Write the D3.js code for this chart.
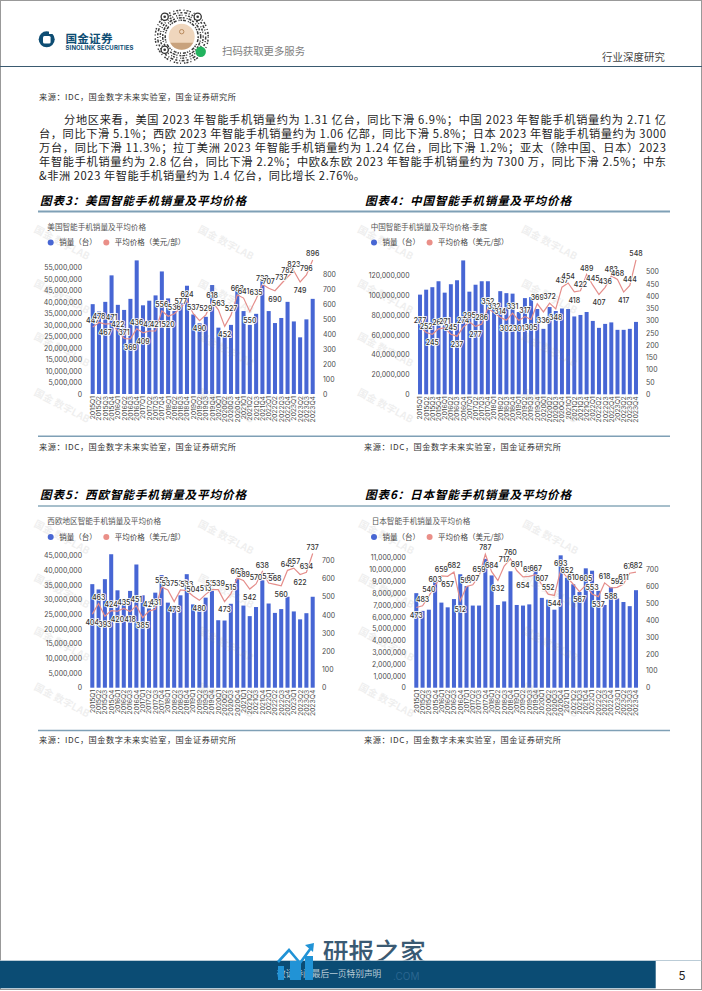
<!DOCTYPE html>
<html>
<head>
<meta charset="utf-8">
<script src="https://cdn.jsdelivr.net/npm/d3@7/dist/d3.min.js"></script>
<style>
  html, body { margin: 0; padding: 0; background: #fff; }
  svg { display: block; }
  text { font-family: "Noto Sans CJK SC", "Noto Sans", sans-serif; }
  .num { font-family: "Inter", "Noto Sans", sans-serif; }
</style>
</head>
<body>
<svg id="page" width="702" height="991"></svg>
<script>
// quarters shared by all four charts
const quarters = [
  "2015Q1","2015Q2","2015Q3","2015Q4","2016Q1","2016Q2","2016Q3","2016Q4","2017Q1",
  "2017Q2","2017Q3","2017Q4","2018Q1","2018Q2","2018Q3","2018Q4","2019Q1","2019Q2",
  "2019Q3","2019Q4","2020Q1","2020Q2","2020Q3","2020Q4","2021Q1","2021Q2","2021Q3",
  "2021Q4","2022Q1","2022Q2","2022Q3","2022Q4","2023Q1","2023Q2","2023Q3","2023Q4"
];

// sales (million units)
const usSales = [39,35.8,40,51.5,38.7,36.5,41.3,58,38.5,40.5,42.8,53.2,41.5,36,39.5,47,34.5,30.7,33.5,47.3,28.8,26,30,45,36,30,34.8,49.2,36,30.8,33,40,31.5,24.6,32.4,41.3];
const cnSales = [100.5,105.5,108,114,102.5,111,115,135,103.5,110.5,114,114,90,104,102,101.5,83,97,98,86,66,88,84,86.5,86,78.5,80,83,74,67,71,72.5,65,65,66,73];
const euSales = [35.3,33.5,37,45.5,33.2,30,33,42,31.5,27,32.4,38.4,29,28,31.5,38.7,28.4,26,30.7,33,23,22.9,28.6,37,28,24.4,27.5,36.6,28.7,25.5,26.8,31,26,23.3,25.4,31];
const jpSales = [8,6.5,6.6,9,7.2,6.8,7.5,9.6,8.6,6.95,6.95,10.9,9.5,7,7.3,9.85,7,6.95,7.05,9.9,7.6,7.45,6.6,11.2,9.3,8.75,8.1,10.1,9.9,8.2,7,8.5,7.55,7.25,6.9,8.25];

// average price (USD per unit)
const usPrice = [447,478,467,471,422,371,369,436,409,421,421,556,520,536,577,624,537,490,529,618,563,452,527,663,641,550,635,733,707,690,737,782,823,749,796,896];
const cnPrice = [277,252,245,267,271,245,237,274,295,277,286,352,332,314,302,331,301,317,305,369,336,372,348,437,454,418,422,489,445,407,436,483,468,417,444,548];
const euPrice = [404,463,393,424,420,435,418,451,385,421,431,553,537,473,537,533,504,480,513,539,539,473,515,603,589,542,570,638,575,568,560,645,657,622,634,737];
const jpPrice = [473,483,540,603,659,657,682,512,597,607,659,787,684,632,717,760,691,654,657,667,607,552,544,693,652,610,567,605,553,537,618,588,592,611,675,682];

// axis ticks
const usLeftTicks = [0,5,10,15,20,25,30,35,40,45,50,55];
const cnLeftTicks = [0,20,40,60,80,100,120];
const euLeftTicks = [0,5,10,15,20,25,30,35,40,45];
const jpLeftTicks = [0,1,2,3,4,5,6,7,8,9,10,11];
const usRightTicks = [0,100,200,300,400,500,600,700,800];
const cnRightTicks = [0,50,100,150,200,250,300,350,400,450,500];
const euRightTicks = [0,100,200,300,400,500,600,700];
const jpRightTicks = [0,100,200,300,400,500,600,700];

// text
const bodyLines = [
  "分地区来看，美国 2023 年智能手机销量约为 1.31 亿台，同比下滑 6.9%；中国 2023 年智能手机销量约为 2.71 亿",
  "台，同比下滑 5.1%；西欧 2023 年智能手机销量约为 1.06 亿部，同比下滑 5.8%；日本 2023 年智能手机销量约为 3000",
  "万台，同比下滑 11.3%；拉丁美洲 2023 年智能手机销量约为 1.24 亿台，同比下滑 1.2%；亚太（除中国、日本）2023",
  "年智能手机销量约为 2.8 亿台，同比下滑 2.2%；中欧&东欧 2023 年智能手机销量约为 7300 万，同比下滑 2.5%；中东",
  "&非洲 2023 年智能手机销量约为 1.4 亿台，同比增长 2.76%。"
];
const sourceText = "来源：IDC，国金数字未来实验室，国金证券研究所";

const barColor = "#4766d4", lineColor = "#e58e8b", legendLine = "#ea8f88";
const svg = d3.select("#page");
const fmt = d3.format(",");

function addText(x, y, str, size, color, opts) {
  opts = opts || {};
  const t = svg.append("text").attr("x", x).attr("y", y).text(str)
    .attr("font-size", size).attr("fill", color)
    .attr("font-weight", opts.weight || 400)
    .attr("text-anchor", opts.anchor || "start");
  if (opts.len) t.attr("textLength", opts.len).attr("lengthAdjust", "spacing");
  if (opts.style) t.attr("font-style", opts.style);
  return t;
}

// ---------- page furniture ----------
svg.append("rect").attr("x", 0.5).attr("y", 0.5).attr("width", 701).attr("height", 989)
  .attr("fill", "#fff").attr("stroke", "#999");

// logo
svg.append("circle").attr("cx", 46.7).attr("cy", 39.3).attr("r", 8).attr("fill", "#0e4d73");
svg.append("rect").attr("x", 43).attr("y", 36).attr("width", 7.6).attr("height", 7.5).attr("rx", 1.5).attr("fill", "#fff");
svg.append("rect").attr("x", 49).attr("y", 30).attr("width", 5).attr("height", 4).attr("fill", "#fff");
addText(65.5, 42.8, "国金证券", 11.6, "#0e4d73", {weight: 700, len: 47});
addText(65.5, 49.6, "SINOLINK SECURITIES", 6, "#0e4d73", {weight: 700, len: 68}).attr("class", "num");

// qr code, ring style
const qr = svg.append("g").attr("transform", "translate(181.7,36.7)");
[[16.5,"1.5 1 3 2 1 1"],[19,"2 2 1 1 3 1"],[21.5,"1 1.5 2 1 1 3"],[24,"3 1.5 1 2 2 2"],[26.5,"1 2 2 1 1.5 3"]].forEach(function (r) {
  qr.append("circle").attr("r", r[0]).attr("fill", "none").attr("stroke", "#3b3b3b")
    .attr("stroke-width", 1.5).attr("stroke-dasharray", r[1]);
});
qr.append("circle").attr("r", 14).attr("fill", "#fff");
qr.append("circle").attr("r", 13).attr("fill", "#efd6bd");
qr.append("path").attr("d", "M-11.5,6 A13,13 0 0 0 11.5,6 Z").attr("fill", "#c8a27d");
qr.append("circle").attr("cy", -5).attr("r", 2.2).attr("fill", "none").attr("stroke", "#b98a5e");
[[-17,-20],[16,-20],[-17,13]].forEach(function (p) {
  qr.append("circle").attr("cx", p[0]).attr("cy", p[1]).attr("r", 3.6).attr("fill", "#fff").attr("stroke", "#333").attr("stroke-width", 1.3);
  qr.append("circle").attr("cx", p[0]).attr("cy", p[1]).attr("r", 1.3).attr("fill", "#333");
});
qr.append("circle").attr("cx", 19).attr("cy", 15).attr("r", 5.2).attr("fill", "#22b35e");
addText(222, 55.3, "扫码获取更多服务", 10.4, "#808080");
addText(602, 60.6, "行业深度研究", 10.4, "#444", {len: 63});

svg.append("line").attr("x1", 0).attr("x2", 702).attr("y1", 66.5).attr("y2", 66.5).attr("stroke", "#3a5a70").attr("stroke-width", 1);

addText(39, 99.6, sourceText, 8.2, "#333", {len: 197});

// body copy
const lineY = [123.6, 138, 152, 166, 180];
bodyLines.forEach(function (s, i) {
  const x = i === 0 ? 64 : 39;
  addText(x, lineY[i], s, 11.2, "#1c1c1c", {len: i === 4 ? 326 : 666 - x});
});

// figure titles and rules
[["图表3：美国智能手机销量及平均价格", 40, 205.4], ["图表4：中国智能手机销量及平均价格", 365, 205.4],
 ["图表5：西欧智能手机销量及平均价格", 40, 499.4], ["图表6：日本智能手机销量及平均价格", 365, 499.4]].forEach(function (t) {
  addText(t[1], t[2], t[0], 11.6, "#000", {weight: 700, style: "italic", len: 206});
});
[[211.5, "#7fa0b6", 2], [436.3, "#7fa0b6", 1.6], [506, "#4f7e97", 1], [730.5, "#7fa0b6", 1.6]].forEach(function (r) {
  svg.append("line").attr("x1", 38).attr("x2", 670).attr("y1", r[0]).attr("y2", r[0]).attr("stroke", r[1]).attr("stroke-width", r[2]);
});
[[39, 449.6], [364, 449.6], [39, 742.6], [364, 742.6]].forEach(function (p) {
  addText(p[0], p[1], sourceText, 8.2, "#333", {len: 197});
});

// ---------- charts ----------
function drawChart(c) {
  const step = (c.xLast - c.xFirst) / (quarters.length - 1);
  const x = d3.scaleBand().domain(quarters)
    .range([c.xFirst - step / 2, c.xLast + step / 2])
    .paddingInner(0.36).paddingOuter(0.18);
  const yLeft = d3.scaleLinear().domain([0, d3.max(c.leftTicks)]).range([c.y0, c.yLeftTop]);
  const yRight = d3.scaleLinear().domain([0, d3.max(c.rightTicks)]).range([c.y0, c.yRightTop]);
  const g = svg.append("g");

  addText(c.titleX, c.titleY, c.title, 7.6, "#555");
  g.append("circle").attr("cx", c.dot1).attr("cy", c.titleY + 13).attr("r", 3).attr("fill", barColor);
  addText(c.dot1 + 8.5, c.titleY + 15.8, "销量（台）", 7.5, "#444");
  g.append("circle").attr("cx", c.dot1 + 55.6).attr("cy", c.titleY + 13).attr("r", 3).attr("fill", legendLine);
  addText(c.dot1 + 64, c.titleY + 15.8, "平均价格（美元/部）", 7.5, "#444");

  g.selectAll(".bar").data(c.sales).enter().append("rect")
    .attr("class", "bar")
    .attr("x", function (d, i) { return x(quarters[i]); })
    .attr("y", function (d) { return yLeft(d); })
    .attr("width", x.bandwidth())
    .attr("height", function (d) { return c.y0 - yLeft(d); })
    .attr("fill", barColor);

  const axisL = d3.axisLeft(yLeft).tickValues(c.leftTicks).tickSize(0).tickPadding(0)
    .tickFormat(function (d) { return fmt(d * 1000000); });
  const axisR = d3.axisRight(yRight).tickValues(c.rightTicks).tickSize(0).tickPadding(0);
  const axisB = d3.axisBottom(x).tickSize(0);

  const gl = g.append("g").attr("transform", "translate(" + c.leftX + ",0)").call(axisL);
  const gr = g.append("g").attr("transform", "translate(" + c.rightX + ",0)").call(axisR);
  const gb = g.append("g").attr("transform", "translate(0," + c.y0 + ")").call(axisB);
  gl.select(".domain").remove();
  gr.select(".domain").remove();
  gb.select(".domain").remove();
  [gl, gr].forEach(function (a) {
    a.selectAll("text").attr("class", "num").attr("font-size", 6.9).attr("fill", "#4a4a4a");
  });
  gb.selectAll("text").attr("class", "num").attr("font-size", 6.8).attr("fill", "#4a4a4a")
    .attr("text-anchor", "end").attr("dy", 0).attr("y", 0)
    .attr("transform", "translate(2.4,2) rotate(-90)");

  // watermark over the bars
  [c.titleX - 14, c.titleX + 150].forEach(function (wx) {
    [12, 66, 119, 175].forEach(function (wy) {
      g.append("text").attr("transform", "translate(" + wx + "," + (c.titleY - 10 + wy) + ") rotate(28)")
        .attr("font-size", 10).attr("fill", "#8a8a8a").attr("opacity", 0.13).attr("font-weight", 700)
        .text("国金 数字LAB");
    });
  });

  const line = d3.line()
    .x(function (d, i) { return x(quarters[i]) + x.bandwidth() / 2; })
    .y(function (d) { return yRight(d); });
  g.append("path").datum(c.price).attr("d", line).attr("fill", "none")
    .attr("stroke", lineColor).attr("stroke-width", 1.2);

  // labels go under a dip, above everywhere else
  g.selectAll(".lab").data(c.price).enter().append("text")
    .attr("class", "lab num")
    .attr("x", function (d, i) { return x(quarters[i]) + x.bandwidth() / 2; })
    .attr("y", function (d, i) {
      const prev = c.price[i - 1], next = c.price[i + 1];
      const dip = i === 0 ? c.firstBelow : (next !== undefined && d < prev && d < next);
      return yRight(d) + (dip ? 10.8 : -3.8);
    })
    .attr("text-anchor", "middle").attr("font-size", 7).attr("font-weight", 500)
    .attr("fill", "#333").attr("stroke", "#fff").attr("stroke-width", 1.6)
    .attr("paint-order", "stroke")
    .text(function (d) { return d; });
}

drawChart({title: "美国智能手机销量及平均价格", sales: usSales, price: usPrice, leftTicks: usLeftTicks, rightTicks: usRightTicks,
  xFirst: 92.7, xLast: 312.7, y0: 394, yLeftTop: 267.3, yRightTop: 274.3, leftX: 82, rightX: 323, titleX: 47.3, titleY: 229.5, dot1: 50.7, firstBelow: false});
drawChart({title: "中国智能手机销量及平均价格-季度", sales: cnSales, price: cnPrice, leftTicks: cnLeftTicks, rightTicks: cnRightTicks,
  xFirst: 420, xLast: 636, y0: 394.3, yLeftTop: 275.3, yRightTop: 271.7, leftX: 409.5, rightX: 646, titleX: 370.7, titleY: 229.5, dot1: 374, firstBelow: false});
drawChart({title: "西欧地区智能手机销量及平均价格", sales: euSales, price: euPrice, leftTicks: euLeftTicks, rightTicks: euRightTicks,
  xFirst: 92.3, xLast: 312.7, y0: 687.7, yLeftTop: 555.7, yRightTop: 560.3, leftX: 82, rightX: 322, titleX: 47.3, titleY: 524, dot1: 50.7, firstBelow: true});
drawChart({title: "日本智能手机销量及平均价格", sales: jpSales, price: jpPrice, leftTicks: jpLeftTicks, rightTicks: jpRightTicks,
  xFirst: 416.3, xLast: 636, y0: 687.7, yLeftTop: 557.7, yRightTop: 569, leftX: 405.8, rightX: 646, titleX: 371.7, titleY: 524, dot1: 374, firstBelow: true});

// ---------- footer ----------
addText(322.7, 962, "研报之家", 25.8, "#3a5a73", {weight: 500});
svg.append("rect").attr("x", 0).attr("y", 961).attr("width", 655.7).attr("height", 27.3).attr("fill", "#0b4c74");
svg.append("line").attr("x1", 0).attr("x2", 702).attr("y1", 960.5).attr("y2", 960.5).attr("stroke", "#a9bfcd").attr("stroke-width", 0.8);
addText(277, 977, "敬请参阅最后一页特别声明", 8.7, "#b9cbd7");
[[278, 966, 6], [290, 961, 11], [305, 956, 8]].forEach(function (b) {
  svg.append("rect").attr("x", b[0]).attr("y", b[1]).attr("width", b[2]).attr("height", 980 - b[1]).attr("fill", "#2193d6");
});
svg.append("path").attr("d", "M278,962 L289,950 L300,963 L311,948").attr("fill", "none").attr("stroke", "#2193d6").attr("stroke-width", 2.6);
svg.append("path").attr("d", "M305,945 L314,943 L313,952 Z").attr("fill", "#2193d6");
addText(393, 980, ".COM", 10, "#2a6690").attr("class", "num");
addText(682, 979.5, "5", 11.5, "#222", {anchor: "middle"}).attr("class", "num");
</script>
</body>
</html>
